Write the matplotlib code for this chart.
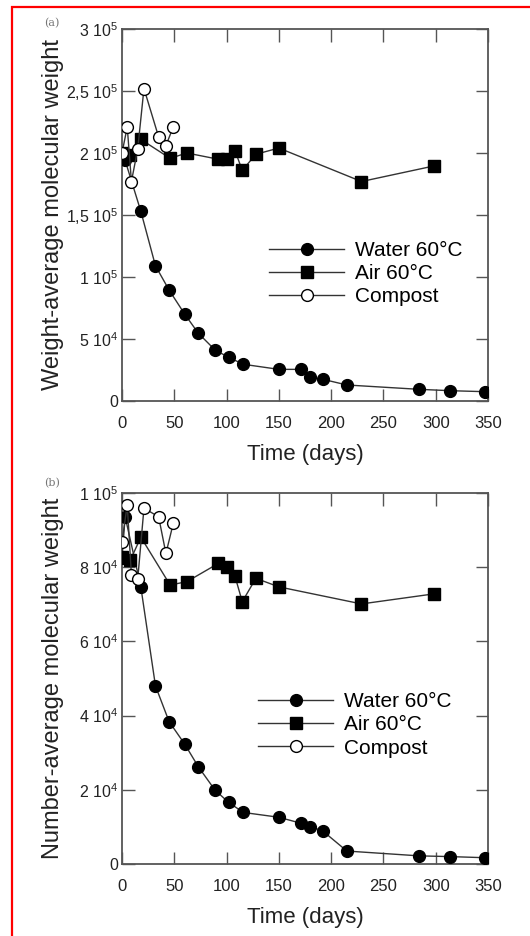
import matplotlib
matplotlib.use("Agg")
import matplotlib.pyplot as plt
from matplotlib.patches import Rectangle

plt.rcParams['font.family'] = ['Liberation Sans', 'DejaVu Sans']
plt.rcParams['mathtext.default'] = 'regular'

# --- data ---
water_days = [0, 3, 18, 32, 45, 60, 73, 89, 102, 116, 150, 171, 180, 192, 215, 284, 314, 347]
water_mw = [2.0e5, 1.94e5, 1.53e5, 1.09e5, 0.895e5, 0.70e5, 0.546e5, 0.411e5, 0.352e5,
            0.296e5, 0.255e5, 0.255e5, 0.19e5, 0.175e5, 0.129e5, 0.094e5, 0.083e5, 0.075e5]
water_mn = [82.5e3, 93.6e3, 74.7e3, 48.0e3, 38.4e3, 32.3e3, 26.2e3, 19.9e3, 16.6e3,
            13.9e3, 12.6e3, 11.0e3, 10.1e3, 8.9e3, 3.5e3, 2.2e3, 2.0e3, 1.7e3]

air_days = [0, 8, 18, 46, 62, 92, 100, 108, 115, 128, 150, 229, 298]
air_mw = [2.0e5, 1.98e5, 2.11e5, 1.957e5, 2.0e5, 1.95e5, 1.95e5, 2.02e5, 1.86e5,
          1.99e5, 2.04e5, 1.77e5, 1.895e5]
air_mn = [82.7e3, 81.9e3, 88.1e3, 75.2e3, 76.1e3, 81.0e3, 80.1e3, 77.6e3, 70.7e3,
          77.0e3, 74.7e3, 70.1e3, 72.8e3]

compost_days = [0, 5, 9, 15, 21, 35, 42, 49]
compost_mw = [2.0e5, 2.21e5, 1.77e5, 2.03e5, 2.52e5, 2.13e5, 2.06e5, 2.21e5]
compost_mn = [86.9e3, 96.8e3, 77.9e3, 76.7e3, 95.9e3, 93.6e3, 83.7e3, 91.8e3]

mw_ticks = [0, 5e4, 1e5, 1.5e5, 2e5, 2.5e5, 3e5]
mw_labels = ['0', '5 10$^4$', '1 10$^5$', '1,5 10$^5$', '2 10$^5$', '2,5 10$^5$', '3 10$^5$']
mn_ticks = [0, 2e4, 4e4, 6e4, 8e4, 1e5]
mn_labels = ['0', '2 10$^4$', '4 10$^4$', '6 10$^4$', '8 10$^4$', '1 10$^5$']
x_ticks = [0, 50, 100, 150, 200, 250, 300, 350]

fig = plt.figure(figsize=(5.3, 9.36), dpi=100)
ax1 = fig.add_axes([0.2302, 0.5716, 0.6906, 0.3974])
ax2 = fig.add_axes([0.2302, 0.0769, 0.6906, 0.3964])

line_col = '#333333'
spine_col = '#555555'


def draw_panel(ax, ywater, yair, ycomp, yticks, ylabels, ymax, ylabel, leg_xy):
    ax.plot(water_days, ywater, '-o', color=line_col, lw=1.0, ms=8.5,
            mfc='black', mec='black', label='Water 60°C', zorder=3)
    ax.plot(air_days, yair, '-s', color=line_col, lw=1.0, ms=9,
            mfc='black', mec='black', label='Air 60°C', zorder=3)
    ax.plot(compost_days, ycomp, '-o', color=line_col, lw=1.0, ms=8.5,
            mfc='white', mec='black', mew=1.0, label='Compost', zorder=4)
    ax.set_xlim(0, 350)
    ax.set_ylim(0, ymax)
    ax.set_xticks(x_ticks)
    ax.set_yticks(yticks)
    ax.set_yticklabels(ylabels)
    ax.tick_params(direction='in', length=9, width=1.0, color=spine_col,
                   top=True, right=True, labelsize=12, colors='#222222')
    ax.tick_params(axis='y', labelsize=11.5, pad=3)
    ax.tick_params(axis='x', pad=11)
    for s in ax.spines.values():
        s.set_color(spine_col)
        s.set_linewidth(1.3)
    ax.set_xlabel('Time (days)', fontsize=16, color='#222222', labelpad=9)
    ax.set_ylabel(ylabel, fontsize=17, color='#222222')
    ax.yaxis.set_label_coords(-0.158, 0.5)
    ax.legend(loc='upper left', bbox_to_anchor=leg_xy, frameon=False,
              fontsize=15, handlelength=3.6, handletextpad=0.5,
              labelspacing=0.2, borderpad=0, borderaxespad=0)


draw_panel(ax1, water_mw, air_mw, compost_mw, mw_ticks, mw_labels, 3e5,
           'Weight-average molecular weight', (0.402, 0.43))
draw_panel(ax2, water_mn, air_mn, compost_mn, mn_ticks, mn_labels, 1e5,
           'Number-average molecular weight', (0.372, 0.463))

fig.text(52 / 530, 1 - 23 / 936, '(a)', fontsize=8, family='DejaVu Serif',
         color='#777777', ha='center', va='center')
fig.text(52 / 530, 1 - 483 / 936, '(b)', fontsize=8, family='DejaVu Serif',
         color='#777777', ha='center', va='center')

# red frame on the left and top edges
fig.add_artist(Rectangle((12 / 530, -0.1), 1.2, 1.1 - 7 / 936,
                         transform=fig.transFigure, fill=False,
                         edgecolor='red', lw=1.6))

fig.savefig('out.png', dpi=100)
